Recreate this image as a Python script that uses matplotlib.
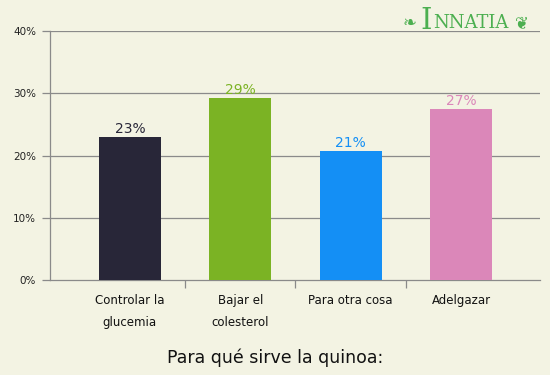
import matplotlib.pyplot as plt
import numpy as np

categories = ["Controlar la\nglucemia", "Bajar el\ncolesterol", "Para otra cosa", "Adelgazar"]
values = [22.9, 29.2, 20.7, 27.5]
labels = ["23%", "29%", "21%", "27%"]
colors = ["#282638", "#7bb324", "#148ff5", "#db87b9"]
yticks = [0, 10, 20, 30, 40]

bg = "#f3f3e3"
grid_c = "#8a8a8a"

fig = plt.figure(figsize=(5.5, 3.75), dpi=100, facecolor=bg)
ax = fig.add_axes([50 / 550, 1 - 280 / 375, 490 / 550, 249 / 375])
ax.set_facecolor(bg)

x = np.arange(len(categories))
ax.bar(x, values, width=0.56, color=colors, zorder=3)
for xi, v, lab, c in zip(x, values, labels, colors):
    ax.text(xi, v + 0.2, lab, ha="center", va="bottom", fontsize=10, color=c, zorder=4)

ax.set_xlim(-0.724, 3.715)
ax.set_ylim(0, 40)
ax.set_yticks(yticks)
ax.set_yticklabels([f"{t}%" for t in yticks], fontsize=7.5, color="#222222")
for t in yticks[1:]:
    ax.axhline(t, color=grid_c, lw=0.9, zorder=1)

ax.set_xticks(x)
ax.set_xticklabels(categories, fontsize=8.5, color="#111111", linespacing=1.95)
ax.tick_params(axis="x", length=0, pad=10)
ax.set_xticks([0.5, 1.5, 2.5], minor=True)
ax.tick_params(axis="x", which="minor", length=6, color=grid_c, width=0.9)
ax.tick_params(axis="y", length=6, color=grid_c, pad=4, width=0.9)

for s in ["top", "right"]:
    ax.spines[s].set_visible(False)
for s in ["left", "bottom"]:
    ax.spines[s].set_color(grid_c)
    ax.spines[s].set_linewidth(0.9)

fig.text(0.5, 1 - 358 / 375, "Para qué sirve la quinoa:", ha="center", va="center",
         fontsize=12.5, color="#111111")

# logo
logo_c = "#4caf50"
fig.text(426 / 550, 1 - 21 / 375, "I", ha="center", va="center", fontsize=21,
         color=logo_c, family="DejaVu Serif")
fig.text(433 / 550, 1 - 23 / 375, "NNATIA", ha="left", va="center", fontsize=13,
         color=logo_c, family="DejaVu Serif")
fig.text(410 / 550, 1 - 23 / 375, "\u2767", ha="center", va="center", fontsize=12,
         color=logo_c)
fig.text(522 / 550, 1 - 23 / 375, "\u2766", ha="center", va="center", fontsize=12,
         color=logo_c)

fig.savefig("out.png", dpi=100, facecolor=bg)
